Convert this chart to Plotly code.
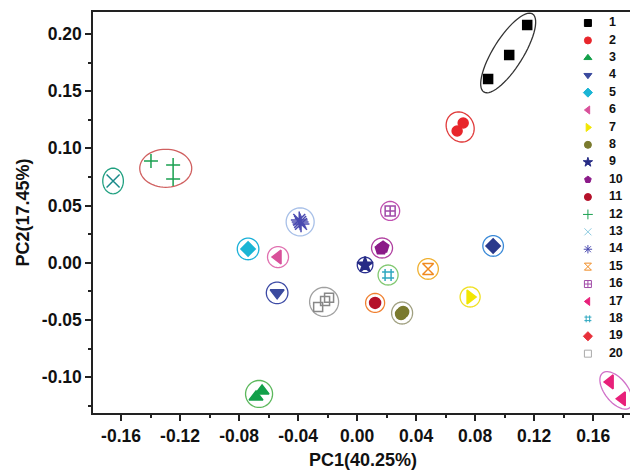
import numpy as np
import plotly.graph_objects as go

# ---------------- data ----------------
groups = [str(i) for i in range(1, 21)]
pc1 = {
    "1": [0.0888, 0.1031, 0.1153],
    "2": [0.0678, 0.0719],
    "3": [-0.0685, -0.0644],
    "4": [-0.0542],
    "5": [-0.0739],
    "6": [-0.0536],
    "7": [0.0766],
    "8": [0.0298, 0.0312],
    "9": [0.0054],
    "10": [0.0162, 0.0176],
    "11": [0.0122],
    "12": [-0.1397, -0.1247, -0.1247],
    "13": [-0.1654],
    "14": [-0.0392, -0.0380, -0.0386],
    "15": [0.0481],
    "16": [0.0224],
    "17": [0.1715, 0.1797],
    "18": [0.0210],
    "19": [0.0922],
    "20": [-0.0264, -0.0217, -0.0190],
}
pc2 = {
    "1": [0.1607, 0.1816, 0.2079],
    "2": [0.1152, 0.1222],
    "3": [-0.1173, -0.1120],
    "4": [-0.0263],
    "5": [0.0121],
    "6": [0.0050],
    "7": [-0.0299],
    "8": [-0.0448, -0.0430],
    "9": [-0.0019],
    "10": [0.0122, 0.0136],
    "11": [-0.0351],
    "12": [0.0890, 0.0855, 0.0733],
    "13": [0.0715],
    "14": [0.0375, 0.0340, 0.0357],
    "15": [-0.0054],
    "16": [0.0453],
    "17": [-0.1041, -0.1189],
    "18": [-0.0107],
    "19": [0.0147],
    "20": [-0.0386, -0.0334, -0.0306],
}
x_tickvals = [-0.16, -0.12, -0.08, -0.04, 0.00, 0.04, 0.08, 0.12, 0.16]
x_ticktext = ["-0.16", "-0.12", "-0.08", "-0.04", "0.00", "0.04", "0.08", "0.12", "0.16"]
y_tickvals = [-0.10, -0.05, 0.00, 0.05, 0.10, 0.15, 0.20]
y_ticktext = ["-0.10", "-0.05", "0.00", "0.05", "0.10", "0.15", "0.20"]
x_title = "PC1(40.25%)"
y_title = "PC2(17.45%)"

# ---------------- styles ----------------
symbols = ["square", "circle", "triangle-up", "triangle-down", "diamond", "triangle-left",
           "triangle-right", "circle", "star", "pentagon", "circle", "cross-thin-open",
           "x-thin-open", "asterisk-open", "hourglass-open", "square-cross-open",
           "triangle-left", "hash-open", "diamond", "square-open"]
colors = ["#000000", "#e8252b", "#13a04a", "#3a4a9e", "#1ab5d5", "#d9509a", "#f2e600",
          "#7a7a2e", "#262b85", "#8b1a88", "#b5112a", "#1aa050", "#1a8a8a", "#4a4ab0",
          "#f08a20", "#a04aa8", "#e8207a", "#30a8c0", "#2a3a8c", "#888888"]
legend_colors = list(colors)
legend_colors[12] = "#8ccbe0"
legend_colors[18] = "#e8303a"
legend_colors[19] = "#aaaaaa"
sizes = [9, 10, 12, 12, 11, 12, 12, 11, 12, 12, 11, 10, 13, 14, 11, 10, 12, 12, 11, 9]
# ellipse: (semi-axis a px, semi-axis b px, angle deg, color)
ellipses = [(46, 15, 58, "#333333"), (13.5, 15.5, 30, "#e03a3a"), (13.5, 13.5, 0, "#5cb85c"),
            (10.8, 10.8, 0, "#3c4aa5"), (10.8, 10.8, 0, "#1ab0d8"), (10.5, 10.5, 0, "#e070b0"),
            (10, 10, 0, "#f0e020"), (10.5, 11, 0, "#a0a080"), (7.8, 7.8, 0, "#2b3090"),
            (10.5, 10, 0, "#b040a0"), (9.5, 9.5, 0, "#f08030"), (26, 19, 0, "#d06060"),
            (10.3, 12.8, 0, "#20a080"), (14, 14, 0, "#a8c0e8"), (10.3, 10.3, 0, "#f0b030"),
            (9.5, 9.5, 0, "#c050b0"), (22, 11.5, -52, "#d070c8"), (10, 10, 0, "#80c870"),
            (10.3, 10.3, 0, "#3b8ad8"), (14.5, 14.5, 0, "#a0a0a0")]

FONT = "Liberation Sans, Arial, sans-serif"

fig = go.Figure()

shapes = []
for i, g in enumerate(groups):
    fig.add_trace(go.Scatter(
        x=pc1[g], y=pc2[g], mode="markers", showlegend=False, name=g,
        marker=dict(symbol=symbols[i], color=colors[i], size=sizes[i],
                    line=dict(color=colors[i], width=1.5)),
        xaxis="x", yaxis="y"))
    a, b, ang, col = ellipses[i]
    t = np.linspace(0, 2 * np.pi, 61)
    th = np.deg2rad(ang)
    ex = a * np.cos(t) * np.cos(th) - b * np.sin(t) * np.sin(th)
    ey = a * np.cos(t) * np.sin(th) + b * np.sin(t) * np.cos(th)
    path = "M " + " L ".join(f"{px:.2f},{py:.2f}" for px, py in zip(ex, ey)) + " Z"
    shapes.append(dict(type="path", xref="x", yref="y", xsizemode="pixel", ysizemode="pixel",
                       xanchor=float(np.mean(pc1[g])), yanchor=float(np.mean(pc2[g])),
                       path=path, line=dict(color=col, width=1.3), layer="below"))

# manual legend on its own axes
idx = list(range(1, len(groups) + 1))
fig.add_trace(go.Scatter(
    x=[10] * len(groups), y=idx, mode="markers", showlegend=False, hoverinfo="skip",
    marker=dict(symbol=symbols, color=legend_colors, size=7,
                line=dict(color=legend_colors, width=1)),
    xaxis="x2", yaxis="y2"))
fig.add_trace(go.Scatter(
    x=[31] * len(groups), y=idx, mode="text", text=groups, textposition="middle right",
    showlegend=False, hoverinfo="skip",
    textfont=dict(family=FONT, size=12.5, color="#111111", weight="bold"),
    xaxis="x2", yaxis="y2"))

axis_common = dict(showline=True, linewidth=1.5, linecolor="#222222", mirror=True,
                   ticks="outside", ticklen=6, tickwidth=1.5, tickcolor="#222222",
                   showgrid=False, zeroline=False, automargin=False,
                   tickfont=dict(family=FONT, size=17.5, color="#111111", weight="bold"))

fig.update_layout(
    width=630, height=463,
    margin=dict(l=85, r=5, t=4, b=58),
    paper_bgcolor="white", plot_bgcolor="rgba(0,0,0,0)",
    showlegend=False,
    shapes=shapes,
    xaxis=dict(range=[-0.179, 0.187], tickmode="array", tickvals=x_tickvals, ticktext=x_ticktext,
               minor=dict(tickmode="linear", tick0=0, dtick=0.02, ticks="outside", ticklen=3,
                          tickwidth=1.5, tickcolor="#222222"),
               title=dict(text=x_title, standoff=9,
                          font=dict(family=FONT, size=18, color="#111111", weight="bold")),
               **axis_common),
    yaxis=dict(range=[-0.1313, 0.2192], tickmode="array", tickvals=y_tickvals, ticktext=y_ticktext,
               minor=dict(tickmode="linear", tick0=0, dtick=0.025, ticks="outside", ticklen=3,
                          tickwidth=1.5, tickcolor="#222222"),
               title=dict(text=y_title, standoff=8,
                          font=dict(family=FONT, size=18, color="#111111", weight="bold")),
               **axis_common),
    xaxis2=dict(domain=[0.898, 0.998], range=[0, 54], visible=False, anchor="y2", fixedrange=True),
    yaxis2=dict(domain=[0, 1], range=[23.41, 0.368], visible=False, anchor="x2", fixedrange=True),
)

fig.write_html("out.html")
